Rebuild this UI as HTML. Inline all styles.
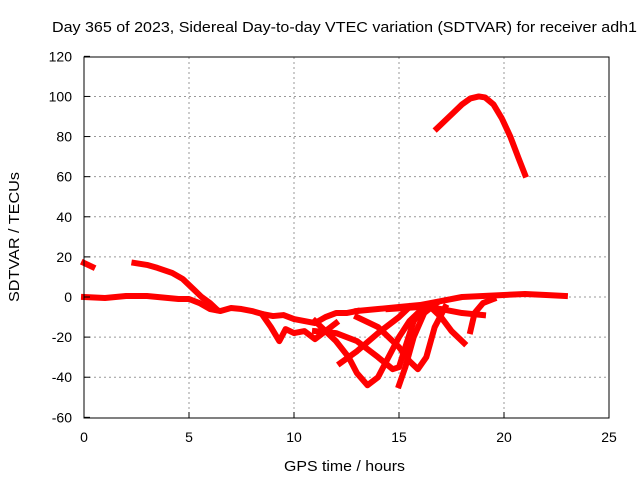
<!DOCTYPE html>
<html><head><meta charset="utf-8"><style>
body{margin:0;background:#fff}
svg text{font-family:"Liberation Sans",sans-serif;font-size:14px;fill:#000}
</style></head><body>
<svg id="chart" width="640" height="480" xmlns="http://www.w3.org/2000/svg">
<text x="52" y="32" textLength="585" lengthAdjust="spacingAndGlyphs" style="font-size:15px">Day 365 of 2023, Sidereal Day-to-day VTEC variation (SDTVAR) for receiver adh1</text>
<g id="grid"></g>
<g id="marks"></g>
<rect x="84" y="57" width="525" height="361" fill="none" stroke="#000" stroke-width="1"/>
<g id="ticks"></g>
<text x="284" y="471" textLength="121" lengthAdjust="spacingAndGlyphs" style="font-size:15px">GPS time / hours</text>
<text x="0" y="0" textLength="130" lengthAdjust="spacingAndGlyphs" style="font-size:15px" transform="translate(19 302) rotate(-90)">SDTVAR / TECUs</text>
</svg>
<script>
const xTicks=[0,5,10,15,20,25];
const yTicks=[-60,-40,-20,0,20,40,60,80,100,120];
const sArc=[[16.8,84],[17.2,88],[17.6,92],[18,96],[18.4,99],[18.8,100],[19.1,99.5],[19.5,96],[19.9,89],[20.3,80],[20.7,69],[21,61]];
const sStart=[[0,17],[0.4,15]];
const sFall=[[2.4,17],[3,16],[3.5,14.5],[4.2,12],[4.7,9],[5.2,4],[5.6,0],[6,-3],[6.3,-6]];
const sBase=[[0,0],[1,-0.5],[2,0.5],[3,0.5],[4,-0.5],[4.5,-1],[5,-1],[5.5,-3],[6,-6],[6.5,-7],[7,-5.5],[7.5,-6],[8,-7],[8.5,-8.5],[9,-9.5],[9.5,-9],[10,-11],[10.5,-12],[11,-13],[11.5,-10],[12,-8],[12.5,-8],[13,-7]];
const sLow=[[8.5,-9],[8.9,-15],[9.3,-22],[9.6,-16],[10,-18],[10.5,-17],[11,-21],[11.5,-17],[12,-13]];
const sV1=[[11,-12],[12,-22],[12.6,-30],[13,-38],[13.5,-44],[14,-40],[14.5,-30],[15,-20],[15.5,-12],[16,-7]];
const sV2=[[12.2,-33],[13,-27],[14,-18],[15,-10],[15.5,-5]];
const sV3=[[11,-17],[12,-18],[13,-22],[14,-30],[14.7,-36],[15,-35],[15.3,-25],[15.7,-12],[16.2,-5]];
const sV4=[[15,-44],[15.3,-35],[15.7,-20],[16.2,-8],[16.8,-3]];
const sV5=[[13,-10],[14,-15],[15,-25],[15.5,-32],[15.9,-36],[16.3,-30],[16.7,-15],[17.2,-5]];
const sV6=[[16.5,-5],[17,-10],[17.5,-17],[18.1,-23]];
const sV7=[[19.5,-1],[19,-3],[18.6,-8],[18.4,-17]];
const sFlat=[[13,-7],[14,-6],[15,-5],[16,-4],[17,-2],[18,0],[19,0.5],[20,1],[21,1.5],[22,1],[22.9,0.5]];
const sBand=[[14.5,-6],[16,-5],[17,-6],[18,-8],[19,-9]];
const series=[sArc,sStart,sFall,sBase,sLow,sV1,sV2,sV3,sV4,sV5,sV6,sV7,sFlat,sBand];
const names=['arc','start','fall','base','low','v1','v2','v3','v4','v5','v6','v7','flat','band'];
const X=h=>84+h*21, Y=v=>297-v*361/180;
const NS='http://www.w3.org/2000/svg';
const grid=document.getElementById('grid'),ticks=document.getElementById('ticks'),marks=document.getElementById('marks');
function mk(tag,attrs,parent){const e=document.createElementNS(NS,tag);for(const k in attrs)e.setAttribute(k,attrs[k]);parent.appendChild(e);return e;}
xTicks.forEach(t=>{
 if(t>0&&t<25){const l=mk('line',{x1:X(t),x2:X(t),y1:57,y2:418,stroke:'#999','stroke-dasharray':'2,3'},grid);
 
 }
 const tl=mk('line',{x1:X(t),x2:X(t),y1:418,y2:412,stroke:'#000'},ticks);
 
 
 const tx=mk('text',{x:X(t),y:442,'text-anchor':'middle'},ticks);tx.textContent=t;
 
 
});
yTicks.forEach(t=>{
 if(t>-60&&t<120){const l=mk('line',{x1:84,x2:609,y1:Y(t),y2:Y(t),stroke:'#999','stroke-dasharray':'2,3'},grid);
 
 }
 const tl=mk('line',{x1:84,x2:90,y1:Y(t),y2:Y(t),stroke:'#000'},ticks);
 
 
 const tx=mk('text',{x:72,y:Y(t)+5,'text-anchor':'end'},ticks);tx.textContent=t;
 
 
});
series.forEach((s,i)=>{
 const p=mk('polyline',{points:s.map(d=>X(d[0])+','+Y(d[1])).join(' '),fill:'none',stroke:'#f00','stroke-width':6,'stroke-linejoin':'round','stroke-linecap':'square'},marks);
 
 
});
</script>
</body></html>
